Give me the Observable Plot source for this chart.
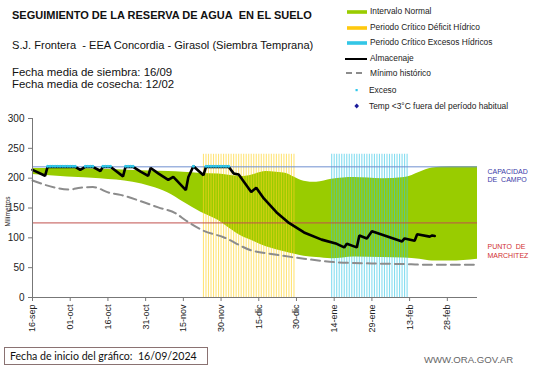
<!DOCTYPE html>
<html>
<head>
<meta charset="utf-8">
<script src="https://cdn.jsdelivr.net/npm/d3@7"></script>
<script src="https://cdn.jsdelivr.net/npm/@observablehq/plot@0.6"></script>
<style>
  body { margin:0; background:#fff; }
  #wrap { position:relative; width:541px; height:368px; overflow:hidden; font-family:"Liberation Sans", Arial, sans-serif; color:#111; }
  .abs { position:absolute; white-space:nowrap; }
  .leg { position:absolute; font-size:8.4px; color:#222; white-space:nowrap; line-height:8px; }
</style>
</head>
<body>
<div id="wrap">
  <div class="abs" style="left:12px;top:10px;font-size:11px;font-weight:bold;line-height:11px;">SEGUIMIENTO DE LA RESERVA DE AGUA&nbsp; EN EL SUELO</div>
  <div class="abs" style="left:12px;top:40px;font-size:11.1px;line-height:11px;">S.J. Frontera&nbsp; - EEA Concordia - Girasol (Siembra Temprana)</div>
  <div class="abs" style="left:12px;top:66px;font-size:11.4px;line-height:12px;">Fecha media de siembra: 16/09<br>Fecha media de cosecha: 12/02</div>
  <div id="legend"></div>
  <div id="chart" style="position:absolute;left:0;top:0;"></div>
  <div class="abs" style="left:-13px;top:208px;width:40px;text-align:center;font-size:6.5px;line-height:7px;color:#222;transform:rotate(-90deg);">Milímetros</div>
  <div class="abs" style="left:4px;top:347px;width:204px;height:18px;border:1px solid #8a7272;box-sizing:border-box;font-family:Lato, 'Open Sans', sans-serif;font-size:10.6px;line-height:16px;padding-left:5px;color:#111;">Fecha de inicio del gráfico:&nbsp; 16/09/2024</div>
  <div class="abs" style="left:424px;top:355px;font-size:9.6px;color:#666;line-height:10px;">WWW.ORA.GOV.AR</div>
</div>
<script>
// ---------- data ----------
const bandDates = ["2024-09-16","2024-09-30","2024-10-13","2024-10-26","2024-11-02","2024-11-09","2024-11-15","2024-11-22","2024-11-29","2024-12-03","2024-12-09","2024-12-12","2024-12-18","2024-12-22","2024-12-26","2024-12-29","2025-01-02","2025-01-07","2025-01-13","2025-01-22","2025-02-02","2025-02-11","2025-02-17","2025-02-22","2025-03-01","2025-03-12"];
const bandUpper = [216,216,215,213,212,211,210,208,207,205,203,205,211,210,208,202,195,193,198,201,199,201,210,217,219,219];
const bandLower = [206,202,199,193,186,175,160,143,129,117,101,96,85,80,76,73,69,67,65,68,67,66,64,61,61,64];

const minDates = ["2024-09-16","2024-10-01","2024-10-05","2024-10-10","2024-10-17","2024-10-21","2024-10-30","2024-11-05","2024-11-12","2024-11-16","2024-11-23","2024-12-01","2024-12-12","2024-12-20","2025-01-02","2025-01-15","2025-01-29","2025-02-11","2025-02-18","2025-03-12"];
const minValues = [196,181,184,185,175,172,160,151,141,129,112,101,79,73,65,59,57,56,55,55];

const storeDates = ["2024-09-16","2024-09-21","2024-09-22","2024-10-03","2024-10-05","2024-10-07","2024-10-10","2024-10-13","2024-10-14","2024-10-17","2024-10-22","2024-10-23","2024-10-26","2024-10-29","2024-11-01","2024-11-02","2024-11-05","2024-11-09","2024-11-11","2024-11-16","2024-11-17","2024-11-19","2024-11-23","2024-11-24","2024-12-03","2024-12-05","2024-12-07","2024-12-12","2024-12-14","2024-12-17","2024-12-22","2024-12-27","2025-01-02","2025-01-09","2025-01-15","2025-01-18","2025-01-19","2025-01-23","2025-01-24","2025-01-27","2025-01-29","2025-02-03","2025-02-10","2025-02-11","2025-02-15","2025-02-16","2025-02-21","2025-02-22","2025-02-23"];
const storeValues = [214,204,219,219,214,219,219,212,219,219,203,219,219,211,204,217,208,197,202,180,202,220,205,219,219,208,206,177,184,166,143,125,109,97,90,84,90,84,104,99,111,104,94,99,95,106,102,104,103];

const excesoStarts = ["2024-09-22","2024-10-07","2024-10-14","2024-10-23","2024-11-19","2024-11-24"];
const excesoEnds   = ["2024-10-03","2024-10-10","2024-10-17","2024-10-26","2024-11-19","2024-12-03"];
const excesoValue = 220;

const deficitPeriod = ["2024-11-23","2024-12-29"];
const excesosPeriod = ["2025-01-13","2025-02-12"];
const periodTop = 240;

const capacidadCampo = 219;
const puntoMarchitez = 125;

const xDomain = ["2024-09-16","2025-03-12"];
const yTicks = [0,50,100,150,200,250,300];
const tickDates = ["2024-09-16","2024-10-01","2024-10-16","2024-10-31","2024-11-15","2024-11-30","2024-12-15","2024-12-30","2025-01-14","2025-01-29","2025-02-13","2025-02-28"];
const tickLabels = ["16-sep","01-oct","16-oct","31-oct","15-nov","30-nov","15-dic","30-dic","14-ene","29-ene","13-feb","28-feb"];

// ---------- build ----------
const P = d3.utcParse("%Y-%m-%d");
const band = bandDates.map((d,i)=>({date:P(d), hi:bandUpper[i], lo:bandLower[i]}));
const minHist = minDates.map((d,i)=>({date:P(d), v:minValues[i]}));
const storage = storeDates.map((d,i)=>({date:P(d), v:storeValues[i]}));
const exceso = excesoStarts.flatMap((s,i)=>d3.utcDay.range(P(s), d3.utcDay.offset(P(excesoEnds[i]),1)).map(d=>({date:d, v:excesoValue})));
const defDays = d3.utcDay.range(P(deficitPeriod[0]), d3.utcDay.offset(P(deficitPeriod[1]),1));
const excDays = d3.utcDay.range(P(excesosPeriod[0]), d3.utcDay.offset(P(excesosPeriod[1]),1));
const ticks = tickDates.map(P);
const labelOf = new Map(ticks.map((d,i)=>[+d, tickLabels[i]]));
const x0 = P(xDomain[0]), x1 = P(xDomain[1]);

const chart = Plot.plot({
  width: 541, height: 368,
  marginLeft: 32, marginRight: 64, marginTop: 118, marginBottom: 71,
  style: {fontFamily: "'Liberation Sans', Arial, sans-serif", background: "transparent", overflow: "visible"},
  x: {type: "utc", domain: [x0, x1]},
  y: {domain: [0, 300]},
  marks: [
    Plot.areaY(band, {x:"date", y1:"lo", y2:"hi", fill:"#99cc00", curve:"monotone-x"}),
    Plot.ruleX(defDays, {x: d=>d, y1: 0, y2: periodTop, stroke:"#ffd21f", strokeOpacity:0.6, strokeWidth:1.1}),
    Plot.ruleX(excDays, {x: d=>d, y1: 0, y2: periodTop, stroke:"#33c6e6", strokeOpacity:0.6, strokeWidth:1.1}),
    Plot.ruleY([capacidadCampo], {stroke:"#6f8fd0", strokeWidth:1}),
    Plot.ruleY([puntoMarchitez], {stroke:"#c0504d", strokeWidth:1}),
    Plot.line(minHist, {x:"date", y:"v", stroke:"#8c8c8c", strokeWidth:2, strokeDasharray:"9,5", curve:"monotone-x"}),
    Plot.line(storage, {x:"date", y:"v", stroke:"#000", strokeWidth:2.6, strokeLinejoin:"miter"}),
    Plot.dot(exceso, {x:"date", y:"v", r:1.5, fill:"#2ec8ec", stroke:null}),
    Plot.ruleX([x0], {stroke:"#777"}),
    Plot.ruleY([0], {stroke:"#777"}),
    Plot.axisY({ticks: yTicks, tickSize: 4, tickPadding: 4, fontSize: 10, label: null, stroke:"#777", fill:"#222"}),
    Plot.axisX({ticks: ticks, tickFormat: d => labelOf.get(+d), tickRotate: -90, tickSize: 4, tickPadding: 3, fontSize: 9, label: null, stroke:"#777", fill:"#222"}),
    Plot.text(["CAPACIDAD\nDE  CAMPO"], {x: x1, y: capacidadCampo, text: d=>d, textAnchor:"start", lineAnchor:"top", dx:10, dy:1, fontSize:7, lineHeight:1.2, fill:"#3a3aa8"}),
    Plot.text(["PUNTO  DE\nMARCHITEZ"], {x: x1, y: 91, text: d=>d, textAnchor:"start", lineAnchor:"top", dx:10, fontSize:7, lineHeight:1.2, fill:"#d03030"})
  ]
});
document.getElementById("chart").appendChild(chart);

// ---------- legend ----------
const legendItems = [
  {label:"Intervalo Normal", kind:"bar", color:"#99cc00", y:11.7},
  {label:"Periodo Crítico Déficit Hídrico", kind:"bar", color:"#ffc90e", y:27.5},
  {label:"Periodo Crítico Excesos Hídricos", kind:"bar", color:"#33c6e6", y:42.7},
  {label:"Almacenaje", kind:"line", color:"#000", y:58.5},
  {label:"Mínimo histórico", kind:"dash", color:"#8c8c8c", y:73.3},
  {label:"Exceso", kind:"dot", color:"#2ec8ec", y:90},
  {label:"Temp <3°C fuera del período habitual", kind:"diamond", color:"#1a1a9a", y:106}
];
const leg = d3.select("#legend");
legendItems.forEach(it => {
  const g = leg.append("svg").attr("width", 26).attr("height", 8)
    .style("position","absolute").style("left","344px").style("top", (it.y-4)+"px");
  if (it.kind==="bar") g.append("rect").attr("x",3).attr("y",2.2).attr("width",20).attr("height",3.6).attr("fill",it.color);
  if (it.kind==="line") g.append("line").attr("x1",1).attr("x2",23).attr("y1",4).attr("y2",4).attr("stroke",it.color).attr("stroke-width",2);
  if (it.kind==="dash") g.append("line").attr("x1",2).attr("x2",20).attr("y1",4).attr("y2",4).attr("stroke",it.color).attr("stroke-width",1.8).attr("stroke-dasharray","6,4");
  if (it.kind==="dot") g.append("rect").attr("x",11.5).attr("y",3).attr("width",2.2).attr("height",2.2).attr("fill",it.color);
  if (it.kind==="diamond") g.append("path").attr("d","M12.7,1.5 L15,4 L12.7,6.5 L10.4,4 Z").attr("fill",it.color);
  leg.append("div").attr("class","leg")
    .style("left", (it.kind==="dot"||it.kind==="diamond") ? "369px" : "370px")
    .style("top", (it.y-4.5)+"px").text(it.label);
});
</script>
</body>
</html>
